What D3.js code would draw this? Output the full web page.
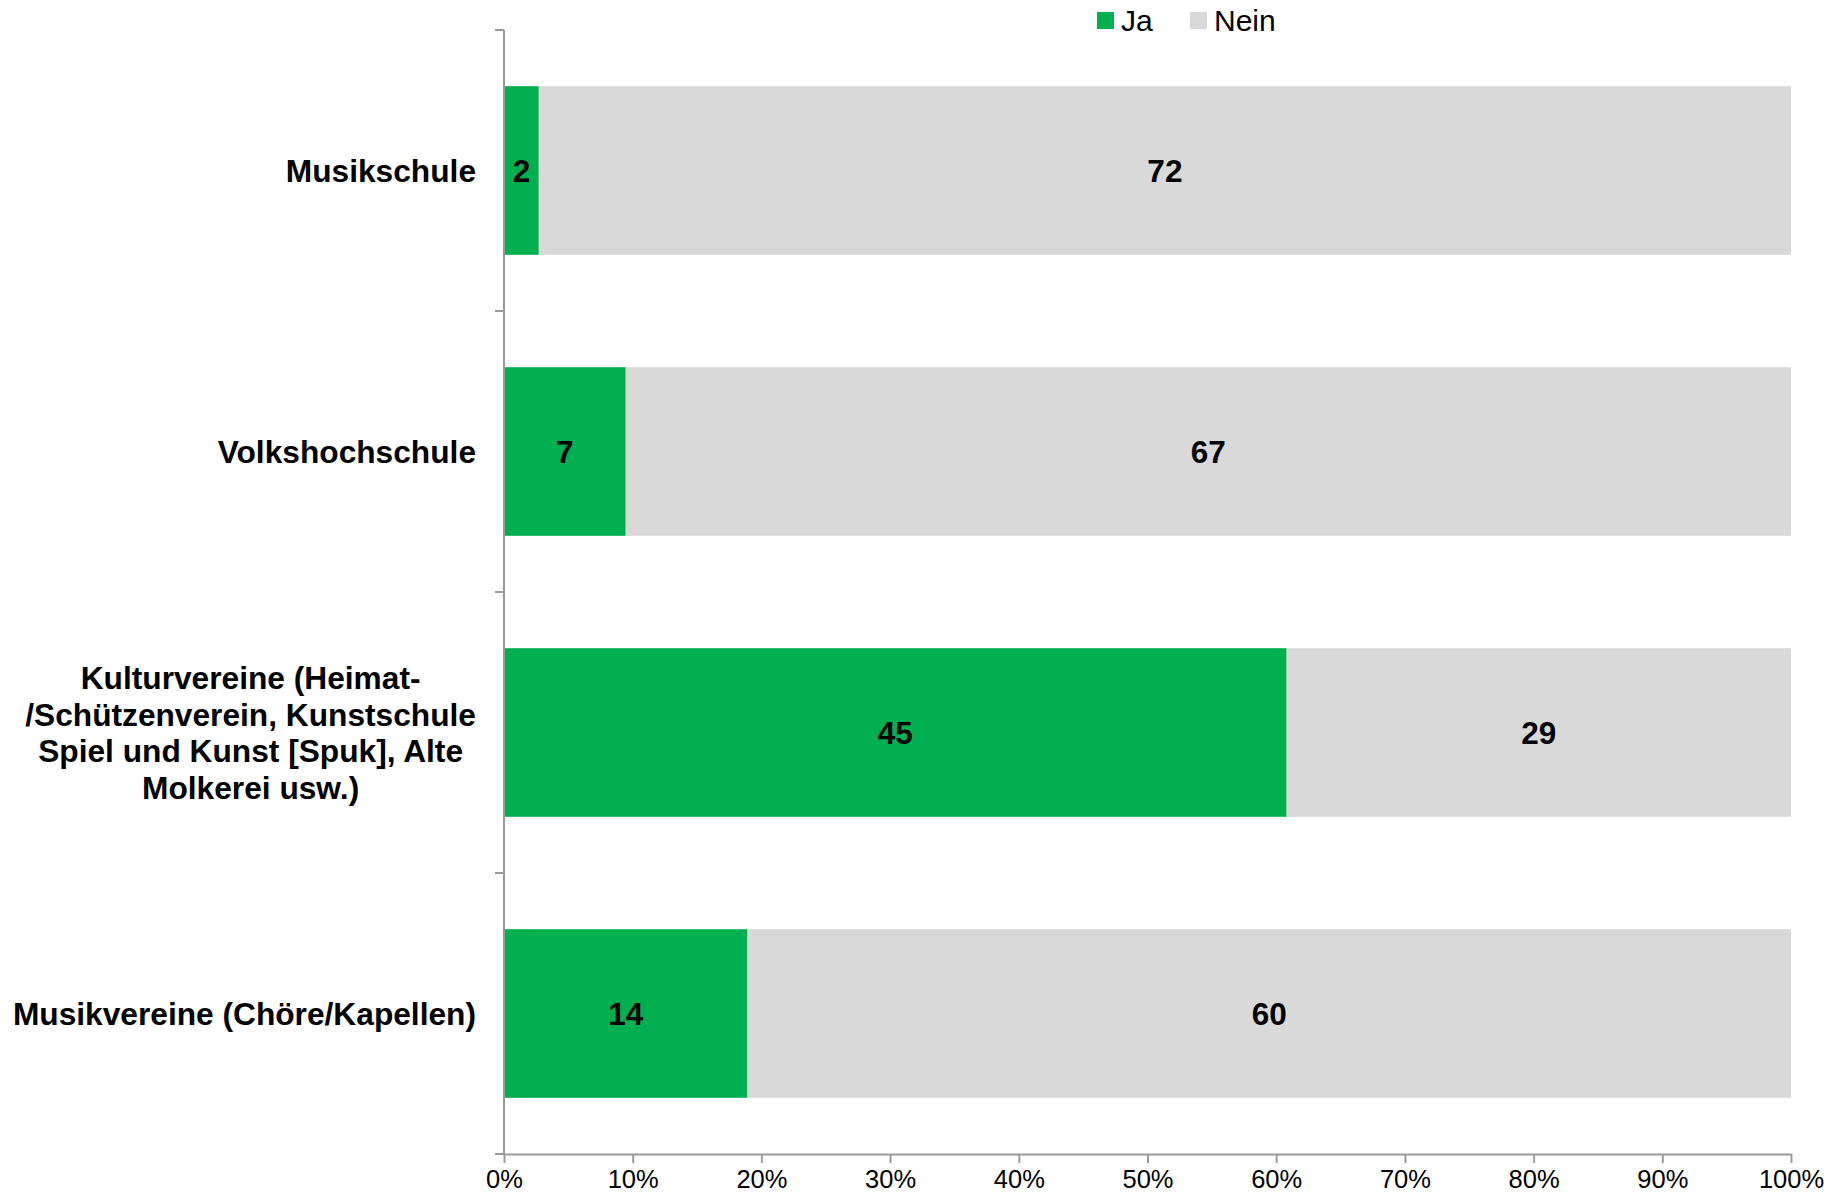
<!DOCTYPE html>
<html><head><meta charset="utf-8">
<script src="https://cdn.jsdelivr.net/npm/d3@7"></script>
<style>body{margin:0;background:#fff;}svg{display:block;font-family:"Liberation Sans",Arial,sans-serif;}</style>
</head><body>
<svg id="chart" width="1827" height="1199"></svg>
<script>
const categories = [
  "Musikschule",
  "Volkshochschule",
  "Kulturvereine (Heimat-\n/Schützenverein, Kunstschule\nSpiel und Kunst [Spuk], Alte\nMolkerei usw.)",
  "Musikvereine (Chöre/Kapellen)"
];
const seriesNames = ["Ja", "Nein"];
const jaValues = [2, 7, 45, 14];
const neinValues = [72, 67, 29, 60];
const xTicks = [0,0.1,0.2,0.3,0.4,0.5,0.6,0.7,0.8,0.9,1];
const colors = {Ja:"#00B050", Nein:"#D9D9D9"};

(function(){
const svg = d3.select("#chart");
const pLeft = 504, pRight = 1791, pTop = 30, pBottom = 1154;
const x = d3.scaleLinear().domain([0,1]).range([pLeft,pRight]);
const y = d3.scaleBand().domain(categories).range([pTop,pBottom]).paddingInner(0.4).paddingOuter(0.2);

const rows = categories.map((c,i)=>{
  const tot = jaValues[i]+neinValues[i];
  return {cat:c, segs:[
    {s:"Ja", v:jaValues[i], x0:0, x1:jaValues[i]/tot},
    {s:"Nein", v:neinValues[i], x0:jaValues[i]/tot, x1:1}
  ]};
});

const g = svg.append("g");
rows.forEach(r=>{
  r.segs.forEach(sg=>{
    g.append("rect").attr("x",x(sg.x0)).attr("y",y(r.cat))
      .attr("width",x(sg.x1)-x(sg.x0)).attr("height",y.bandwidth())
      .attr("fill",colors[sg.s]);
    g.append("text").attr("x",(x(sg.x0)+x(sg.x1))/2).attr("y",y(r.cat)+y.bandwidth()/2)
      .attr("dy","0.36em").attr("text-anchor","middle").attr("font-weight","bold")
      .attr("font-size",31.5).attr("fill","#000").text(sg.v);
  });
});

const axisColor = "#9a9a9a";
svg.append("line").attr("x1",pLeft).attr("x2",pLeft).attr("y1",pTop).attr("y2",pBottom)
  .attr("stroke",axisColor).attr("stroke-width",2);
const step = (pBottom-pTop)/categories.length;
d3.range(categories.length+1).forEach(i=>{
  const yy = pTop + i*step;
  svg.append("line").attr("x1",pLeft-9).attr("x2",pLeft).attr("y1",yy).attr("y2",yy)
    .attr("stroke",axisColor).attr("stroke-width",2);
});

const xAxis = d3.axisBottom(x).tickValues(xTicks).tickFormat(d3.format(".0%")).tickSize(9).tickSizeOuter(0);
const xg = svg.append("g").attr("transform",`translate(0,${pBottom})`).call(xAxis);
xg.select(".domain").attr("stroke",axisColor).attr("stroke-width",2);
xg.selectAll(".tick line").attr("stroke",axisColor).attr("stroke-width",2);
xg.selectAll(".tick text").attr("font-size",25.5).attr("fill","#000")
  .attr("font-family","'Liberation Sans',Arial,sans-serif").attr("y",16).attr("dy","0.71em");

const labelRight = 476, lineH = 36.8;
categories.forEach(c=>{
  const lines = c.split("\n");
  const cy = y(c)+y.bandwidth()/2;
  const tg = svg.append("g");
  const texts = lines.map((ln,i)=>tg.append("text").attr("font-size",31.7).attr("font-weight","bold")
    .attr("fill","#000").attr("y",cy+(i-(lines.length-1)/2)*lineH).attr("dy","0.36em").text(ln));
  const maxW = d3.max(texts,t=>t.node().getComputedTextLength());
  const cx = labelRight - maxW/2;
  texts.forEach(t=>t.attr("x",cx).attr("text-anchor","middle"));
});

const legend = svg.append("g");
const legX = [1097, 1190];
seriesNames.forEach((s,i)=>{
  legend.append("rect").attr("x",legX[i]).attr("y",12).attr("width",17).attr("height",17).attr("fill",colors[s]);
  legend.append("text").attr("x",legX[i]+24).attr("y",20).attr("dy","0.36em")
    .attr("font-size",30).attr("fill","#000").text(s);
});
})();
</script>
</body></html>
